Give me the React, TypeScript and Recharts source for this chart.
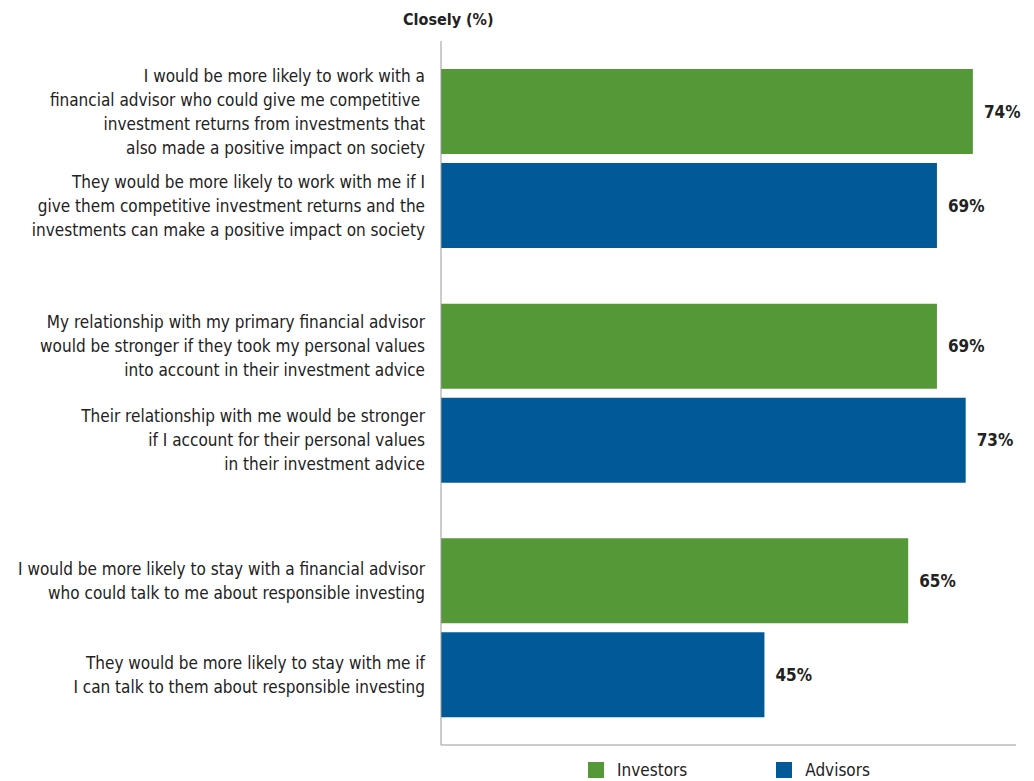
import { BarChart, Bar, XAxis, YAxis, LabelList } from 'recharts';

const groups = ['work', 'values', 'stay'];
const investors = [74, 69, 65];
const advisors = [69, 73, 45];
const investorLabels = [
  'I would be more likely to work with a\nfinancial advisor who could give me competitive \ninvestment returns from investments that\nalso made a positive impact on society',
  'My relationship with my primary financial advisor\nwould be stronger if they took my personal values\ninto account in their investment advice',
  'I would be more likely to stay with a financial advisor\nwho could talk to me about responsible investing',
];
const advisorLabels = [
  'They would be more likely to work with me if I\ngive them competitive investment returns and the\ninvestments can make a positive impact on society',
  'Their relationship with me would be stronger\nif I account for their personal values\nin their investment advice',
  'They would be more likely to stay with me if\nI can talk to them about responsible investing',
];

const data = groups.map((g, i) => ({
  group: g,
  investors: investors[i],
  advisors: advisors[i],
  invLabel: investorLabels[i],
  advLabel: advisorLabels[i],
}));

const FONT = '"DejaVu Sans Condensed", "Liberation Sans Narrow", Arial, sans-serif';
const GREEN = '#559838';
const BLUE = '#005A98';

const SideLabel = (props: any) => {
  const { x, y, height, value } = props;
  const lines = String(value).split('\n');
  const lh = 24;
  const cy = y + height / 2;
  const startY = cy - ((lines.length - 1) * lh) / 2;
  return (
    <text x={x - 16} y={startY} textAnchor="end" fontFamily={FONT} fontSize={17} fill="#222" dominantBaseline="central">
      {lines.map((l, i) => (
        <tspan key={i} x={x - 16} y={startY + i * lh} style={{ whiteSpace: 'pre' }}>
          {l}
        </tspan>
      ))}
    </text>
  );
};

const ValueLabel = (props: any) => {
  const { x, y, width, height, value } = props;
  return (
    <text x={x + width + 11} y={y + height / 2} fontFamily={FONT} fontSize={17} fontWeight="bold" fill="#222" dominantBaseline="central">
      {value}%
    </text>
  );
};

export default function App() {
  return (
    <div style={{ position: 'absolute', left: 0, top: 0, width: 1034, height: 781, overflow: 'hidden', background: '#fff' }}>
      <div style={{ position: 'absolute', top: 10, left: 403, fontFamily: FONT, fontSize: 16, fontWeight: 'bold', color: '#222' }}>
        Closely (%)
      </div>
      <BarChart
        width={1034}
        height={781}
        data={data}
        layout="vertical"
        margin={{ top: 41, right: 18, bottom: 35, left: 440 }}
        barSize={85}
        barGap={9}
      >
        <XAxis type="number" domain={[0, 80]} tick={false} tickLine={false} height={1} axisLine={{ stroke: '#999' }} />
        <YAxis type="category" dataKey="group" tick={false} tickLine={false} width={1} axisLine={{ stroke: '#999' }} />
        <Bar dataKey="investors" name="Investors" fill={GREEN} isAnimationActive={false}>
          <LabelList dataKey="invLabel" content={<SideLabel />} />
          <LabelList dataKey="investors" content={<ValueLabel />} />
        </Bar>
        <Bar dataKey="advisors" name="Advisors" fill={BLUE} isAnimationActive={false}>
          <LabelList dataKey="advLabel" content={<SideLabel />} />
          <LabelList dataKey="advisors" content={<ValueLabel />} />
        </Bar>
      </BarChart>
      <div style={{ position: 'absolute', top: 761, left: 588, display: 'flex', fontFamily: FONT, fontSize: 17, lineHeight: '18px', color: '#222' }}>
        <div style={{ display: 'flex', alignItems: 'center' }}>
          <span style={{ width: 16, height: 16, background: GREEN, display: 'inline-block', marginRight: 13 }} />
          <span>Investors</span>
        </div>
        <div style={{ display: 'flex', alignItems: 'center', marginLeft: 89 }}>
          <span style={{ width: 16, height: 16, background: BLUE, display: 'inline-block', marginRight: 13 }} />
          <span>Advisors</span>
        </div>
      </div>
    </div>
  );
}
